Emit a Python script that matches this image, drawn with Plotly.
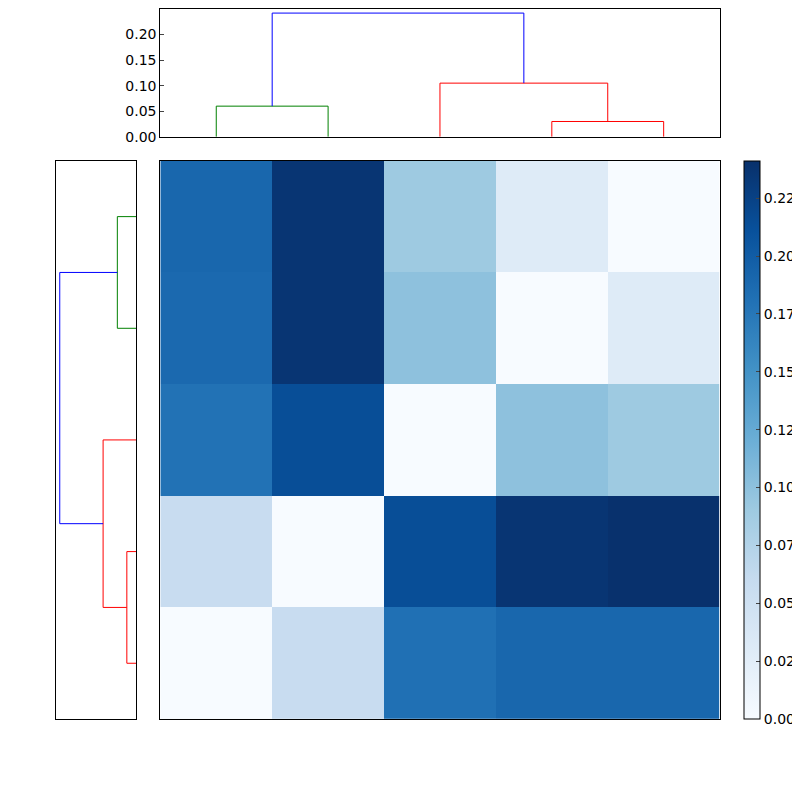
import plotly.graph_objects as go

# distance matrix (rows top->bottom, cols left->right)
z = [
    [0.190, 0.236, 0.090, 0.030, 0.000],
    [0.188, 0.236, 0.100, 0.000, 0.030],
    [0.180, 0.214, 0.000, 0.100, 0.090],
    [0.058, 0.000, 0.214, 0.236, 0.240],
    [0.000, 0.058, 0.182, 0.190, 0.190],
]
# dendrogram merges: (left pos, right pos, left height, right height, merge height, color)
merges = [
    (0.5, 1.5, 0.0, 0.0, 0.060, "green"),
    (3.5, 4.5, 0.0, 0.0, 0.030, "red"),
    (2.5, 4.0, 0.0, 0.030, 0.105, "red"),
    (1.0, 3.25, 0.060, 0.105, 0.242, "blue"),
]
cb_vals = [0, 0.025, 0.05, 0.075, 0.1, 0.125, 0.15, 0.175, 0.2, 0.225]
cb_text = ["0.00", "0.02", "0.05", "0.07", "0.10", "0.12", "0.15", "0.17", "0.20", "0.22"]
top_ticks = [0, 0.05, 0.10, 0.15, 0.20, 0.25]

HX = [0.1904, 0.8895]
HY = [0.1023, 0.8081]

fig = go.Figure()
fig.add_trace(go.Heatmap(
    z=z, x=[0.5, 1.5, 2.5, 3.5, 4.5], y=[0.5, 1.5, 2.5, 3.5, 4.5],
    colorscale="Blues", zmin=0, zmax=0.241, xaxis="x", yaxis="y",
    colorbar=dict(x=0.9195, xanchor="left", y=HY[0], yanchor="bottom", len=HY[1] - HY[0],
                  lenmode="fraction", thickness=16, outlinewidth=1, outlinecolor="black",
                  tickvals=cb_vals, ticktext=cb_text, ticks="inside", ticklen=4,
                  tickfont=dict(size=14, color="black"), xpad=0, ypad=0)))
for a, b, ha, hb, h, c in merges:
    fig.add_trace(go.Scatter(x=[a, a, b, b], y=[ha, h, h, hb], mode="lines",
                             line=dict(color=c, width=1), xaxis="x2", yaxis="y2",
                             showlegend=False, hoverinfo="skip"))
    fig.add_trace(go.Scatter(y=[a, a, b, b], x=[ha, h, h, hb], mode="lines",
                             line=dict(color=c, width=1), xaxis="x3", yaxis="y3",
                             showlegend=False, hoverinfo="skip"))
ax = dict(showline=True, mirror=True, linecolor="black", linewidth=1, showgrid=False, zeroline=False)
fig.update_layout(
    width=800, height=800, margin=dict(l=0, r=0, t=0, b=0),
    plot_bgcolor="white", paper_bgcolor="white", showlegend=False,
    font=dict(family="DejaVu Sans", size=14, color="black"),
    xaxis=dict(domain=HX, range=[0, 5], showticklabels=False, ticks="", **ax),
    yaxis=dict(domain=HY, range=[5, 0], showticklabels=False, ticks="", **ax),
    xaxis2=dict(domain=HX, range=[0, 5], showticklabels=False, ticks="", anchor="y2", **ax),
    yaxis2=dict(domain=[0.8384, 1.0], range=[0, 0.25], tickvals=top_ticks,
                ticktext=["%.2f" % t for t in top_ticks], ticks="inside", ticklen=4,
                anchor="x2", **ax),
    xaxis3=dict(domain=[0.0605, 0.1604], range=[0.2526, 0], showticklabels=False, ticks="", anchor="y3", **ax),
    yaxis3=dict(domain=HY, range=[5, 0], showticklabels=False, ticks="", anchor="x3", **ax),
)
fig.write_html("out.html")
